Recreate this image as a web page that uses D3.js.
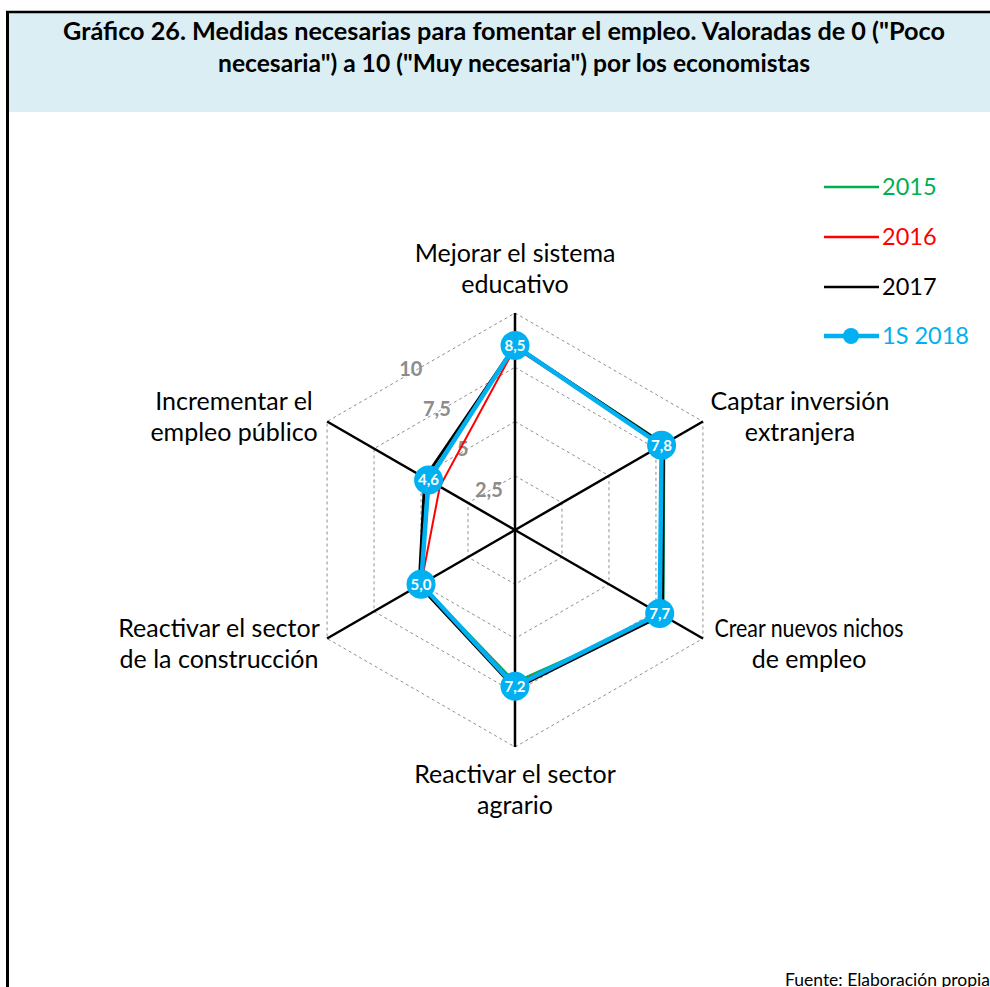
<!DOCTYPE html>
<html>
<head>
<meta charset="utf-8">
<script src="https://cdn.jsdelivr.net/npm/d3@7"></script>
<style>
  body { margin: 0; background: #fff; }
  svg { display: block; }
  text { font-family: Lato, "Noto Sans", sans-serif; }
</style>
</head>
<body>
<svg id="chart" width="990" height="987"></svg>
<script>
// Axis categories (two text lines each), clockwise from the top
const categories = [
  ["Mejorar el sistema", "educativo"],
  ["Captar inversión", "extranjera"],
  ["Crear nuevos nichos", "de empleo"],
  ["Reactivar el sector", "agrario"],
  ["Reactivar el sector", "de la construcción"],
  ["Incrementar el", "empleo público"]
];

// Average scores (0-10) per year
const values2015 = [8.5, 7.95, 7.9, 7.0, 5.0, 4.55];
const values2016 = [8.4, 7.85, 7.8, 7.1, 5.0, 4.0];
const values2017 = [8.5, 7.9, 7.85, 7.3, 5.1, 4.8];
const values2018 = [8.5, 7.8, 7.7, 7.2, 5.0, 4.6];

const seriesNames = ["2015", "2016", "2017", "1S 2018"];
const seriesColors = ["#00B050", "#FF0000", "#000000", "#00B0F0"];

const tickValues = [2.5, 5, 7.5, 10];
const tickLabels = ["2,5", "5", "7,5", "10"];

const titleLines = [
  "Gráfico 26. Medidas necesarias para fomentar el empleo. Valoradas de 0 (\"Poco",
  "necesaria\") a 10 (\"Muy necesaria\") por los economistas"
];
const sourceText = "Fuente: Elaboración propia";

const svg = d3.select("#chart");
const W = 990, H = 987;

// Frame and title band
svg.append("rect").attr("x", 9).attr("y", 13).attr("width", W - 9).attr("height", 99)
  .attr("fill", "#DAEEF3");
svg.append("line").attr("x1", 6).attr("x2", W).attr("y1", 12).attr("y2", 12)
  .attr("stroke", "#000").attr("stroke-width", 2.5);
svg.append("line").attr("x1", 7.5).attr("x2", 7.5).attr("y1", 11).attr("y2", H)
  .attr("stroke", "#000").attr("stroke-width", 3);

const titleX = [504, 514];
const titleY = [40, 72];
const titleWidth = [882, 592];
titleLines.forEach((t, i) => {
  svg.append("text").attr("x", titleX[i]).attr("y", titleY[i])
    .attr("text-anchor", "middle").attr("font-weight", "bold")
    .attr("font-size", 24.5).attr("fill", "#000")
    .attr("textLength", titleWidth[i]).attr("lengthAdjust", "spacingAndGlyphs")
    .text(t);
});

// Radar geometry
const cx = 515, cy = 530, R = 217;
const r = d3.scaleLinear().domain([0, 10]).range([0, R]);
const n = categories.length;
const angle = i => i * 2 * Math.PI / n;
const px = (i, v) => cx + r(v) * Math.sin(angle(i));
const py = (i, v) => cy - r(v) * Math.cos(angle(i));

const g = svg.append("g");

// Dashed hexagonal gridlines
const gridLine = d3.lineRadial()
  .angle((d, i) => angle(i))
  .radius(d => r(d))
  .curve(d3.curveLinearClosed);
tickValues.forEach(t => {
  g.append("path")
    .attr("transform", `translate(${cx},${cy})`)
    .attr("d", gridLine(d3.range(n).map(() => t)))
    .attr("fill", "none").attr("stroke", "#8f8f8f")
    .attr("stroke-width", 1).attr("stroke-dasharray", "3,3");
});

// Spokes
d3.range(n).forEach(i => {
  g.append("line")
    .attr("x1", cx).attr("y1", cy)
    .attr("x2", px(i, 10)).attr("y2", py(i, 10))
    .attr("stroke", "#000").attr("stroke-width", 2.5);
});

// Scale labels
tickValues.forEach((t, k) => {
  g.append("text")
    .attr("x", cx - 0.48 * r(t)).attr("y", cy - 0.745 * r(t))
    .attr("dy", "0.36em").attr("text-anchor", "middle")
    .attr("font-weight", "bold").attr("font-size", 20).attr("fill", "#8c8c8c")
    .text(tickLabels[k]);
});

// Category labels (optional fixed widths keep the long lines clear of the spokes)
const labelPos = [
  { x: 515, y: 262 },
  { x: 800, y: 410 },
  { x: 809, y: 637, widths: [189, null] },
  { x: 515, y: 783 },
  { x: 219, y: 637 },
  { x: 234, y: 410 }
];
categories.forEach((lines, i) => {
  const pos = labelPos[i];
  const tx = g.append("text").attr("text-anchor", "middle")
    .attr("font-size", 25).attr("fill", "#000");
  lines.forEach((l, k) => {
    const ts = tx.append("tspan").attr("x", pos.x).attr("y", pos.y + k * 31).text(l);
    if (pos.widths && pos.widths[k]) {
      ts.attr("textLength", pos.widths[k]).attr("lengthAdjust", "spacingAndGlyphs");
    }
  });
});

// Series polygons
const allSeries = [values2015, values2016, values2017, values2018];
const widths = [2, 2, 3, 4.5];
const seriesLine = d3.lineRadial()
  .angle((d, i) => angle(i))
  .radius(d => r(d))
  .curve(d3.curveLinearClosed);
allSeries.forEach((vals, s) => {
  g.append("path")
    .attr("transform", `translate(${cx},${cy})`)
    .attr("d", seriesLine(vals))
    .attr("fill", "none").attr("stroke", seriesColors[s])
    .attr("stroke-width", widths[s]).attr("stroke-linejoin", "miter");
});

// Markers with value labels for the latest period
const fmt = d3.formatLocale({ decimal: ",", thousands: ".", grouping: [3], currency: ["", "€"] }).format(".1f");
values2018.forEach((v, i) => {
  g.append("circle").attr("cx", px(i, v)).attr("cy", py(i, v)).attr("r", 14.5)
    .attr("fill", "#00B0F0");
  g.append("text").attr("x", px(i, v)).attr("y", py(i, v)).attr("dy", "0.36em")
    .attr("text-anchor", "middle").attr("font-weight", "bold")
    .attr("font-size", 15).attr("fill", "#fff").text(fmt(v));
});

// Legend
const legendY = [187, 237, 287, 336];
seriesNames.forEach((name, s) => {
  const lg = svg.append("g");
  lg.append("line").attr("x1", 824).attr("x2", 879).attr("y1", legendY[s]).attr("y2", legendY[s])
    .attr("stroke", seriesColors[s]).attr("stroke-width", s === 3 ? 4.5 : 2.5);
  if (s === 3) {
    lg.append("circle").attr("cx", 851).attr("cy", legendY[s]).attr("r", 8).attr("fill", seriesColors[s]);
  }
  lg.append("text").attr("x", 882).attr("y", legendY[s]).attr("dy", "0.36em")
    .attr("font-size", 23.5).attr("fill", seriesColors[s]).text(name);
});

// Source
svg.append("text").attr("x", 785).attr("y", 986)
  .attr("font-size", 17.5).attr("fill", "#000").text(sourceText);
</script>
</body>
</html>
